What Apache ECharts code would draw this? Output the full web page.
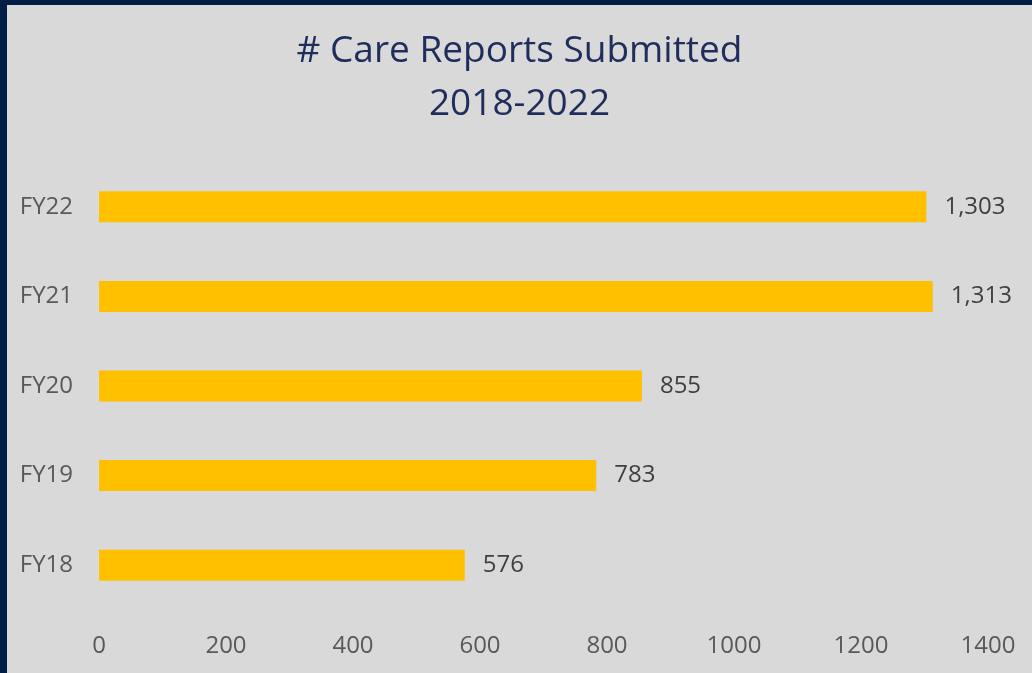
<!DOCTYPE html>
<html><head><meta charset="utf-8">
<script src="https://cdn.jsdelivr.net/npm/echarts@6/dist/echarts.min.js"></script>
<style>
html,body{margin:0;padding:0;background:#001e45;width:1032px;height:673px;overflow:hidden;}
#c{position:absolute;left:7px;top:5px;width:1025px;height:668px;background:#d9d9d9;}
</style></head><body>
<div id="c"></div>
<script>
const categories = ['FY18','FY19','FY20','FY21','FY22'];
const reports = [576, 783, 855, 1313, 1303];
const xTicks = [0, 200, 400, 600, 800, 1000, 1200, 1400];
const titleLines = ['# Care Reports Submitted', '2018-2022'];

const chart = echarts.init(document.getElementById('c'));
chart.setOption({
  animation: false,
  backgroundColor: '#d9d9d9',
  title: {
    text: titleLines.join('\n'),
    left: 'center',
    top: 15,
    textStyle: {fontFamily: 'Open Sans', fontWeight: 'normal', fontSize: 37, color: '#1f2d5c', lineHeight: 53}
  },
  grid: {left: 92, right: 44, top: 157, bottom: 63, containLabel: false},
  xAxis: {
    type: 'value', min: xTicks[0], max: xTicks[xTicks.length-1], interval: 200,
    splitLine: {show: false}, axisLine: {show: false}, axisTick: {show: false},
    axisLabel: {margin: 24, fontFamily: 'Open Sans', fontSize: 24, color: '#595959', formatter: v => String(v)}
  },
  yAxis: {
    type: 'category', data: categories,
    axisLine: {show: false}, axisTick: {show: false},
    axisLabel: {margin: 26, fontFamily: 'Open Sans', fontSize: 24, color: '#595959'}
  },
  series: [{
    type: 'bar', data: reports, barWidth: 31,
    itemStyle: {color: '#ffc000'},
    label: {show: true, position: 'right', distance: 18, fontFamily: 'Open Sans', fontSize: 24, color: '#404040',
      formatter: p => p.value.toLocaleString('en-US')}
  }]
});
</script>
</body></html>
